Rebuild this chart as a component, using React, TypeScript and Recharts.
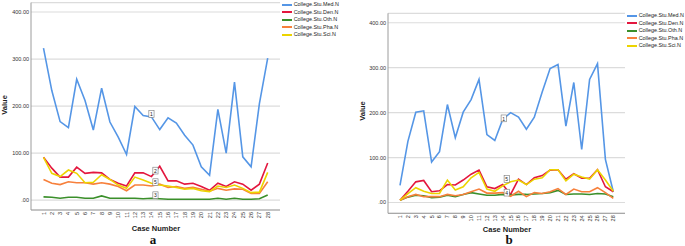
import React from "react";
import { LineChart, Line, XAxis, YAxis, CartesianGrid, Legend } from "recharts";

const cases = ["1","2","3","4","5","6","7","8","9","10","11","12","13","14","15","16","17","18","19","20","21","22","23","24","25","26","27","28"];
const seriesNames = ["College.Stu.Med.N","College.Stu.Den.N","College.Stu.Oth.N","College.Stu.Pha.N","College.Stu.Sci.N"];
const seriesColors = ["#5596e6","#e3173e","#3a8f2a","#f7803c","#ecd400"];
const yTicks = [0,100,200,300,400];

// panel a
const aMed = [323,233,167,154,257,212,149,238,166,134,97,199,180,177,150,175,164,138,117,71,53,193,100,251,92,71,205,302];
const aDen = [91,68,49,49,70,57,59,58,44,36,30,58,58,50,72,41,41,34,36,29,21,36,29,39,34,21,34,79];
const aOth = [7,6,4,6,6,4,4,9,4,4,4,4,3,4,3,2,2,2,2,2,2,4,2,4,2,2,3,11];
const aPha = [44,36,33,39,37,37,34,37,34,29,20,32,32,30,34,27,29,25,27,23,19,25,21,24,23,14,14,39];
const aSci = [91,57,50,64,57,37,38,54,44,32,25,49,43,36,32,30,27,23,25,20,18,30,27,32,25,16,17,59];

// panel b
const bMed = [38,136,201,204,90,113,218,144,201,229,274,151,138,185,200,190,163,190,246,298,307,170,267,118,274,309,96,24];
const bDen = [5,25,46,49,24,26,40,39,50,63,72,35,31,40,18,52,40,55,60,72,73,52,64,54,54,73,35,24];
const bOth = [5,12,16,15,11,12,16,13,18,22,19,16,16,18,17,18,18,19,20,22,27,18,19,19,18,20,19,13];
const bPha = [5,13,18,13,13,13,18,15,18,24,30,21,21,22,14,25,13,22,20,24,31,18,30,24,24,33,22,9];
const bSci = [5,20,33,25,20,20,50,28,35,55,67,30,25,37,46,50,40,52,55,73,73,48,63,57,52,73,50,25];

const keys = ["med","den","oth","pha","sci"];

function build(med: number[], den: number[], oth: number[], pha: number[], sci: number[]) {
  return cases.map((c, i) => ({ case: c, med: med[i], den: den[i], oth: oth[i], pha: pha[i], sci: sci[i] }));
}
const dataA = build(aMed, aDen, aOth, aPha, aSci);
const dataB = build(bMed, bDen, bOth, bPha, bSci);

const FONT = "'Liberation Sans', Arial, sans-serif";

const XTick = (props: any) => {
  const { x, y, payload } = props;
  return (
    <text x={x} y={y} transform={`rotate(-90, ${x}, ${y})`} textAnchor="end" dominantBaseline="central" fontSize={5.5} fill="#333" fontFamily={FONT}>
      {payload.value}
    </text>
  );
};

const fmt = (v: number) => (v === 0 ? ".00" : v.toFixed(2));

const LegendBox = (props: any) => {
  const items = [...(props.payload || [])].sort(
    (p: any, q: any) => seriesNames.indexOf(p.value) - seriesNames.indexOf(q.value)
  );
  return (
    <div style={{ fontFamily: FONT, whiteSpace: "nowrap" }}>
      {items.map((p: any, i: number) => (
        <div key={i} style={{ display: "flex", alignItems: "center", height: 7.4 }}>
          <span style={{ display: "inline-block", width: 10, height: 2, background: p.color }} />
          <span style={{ marginLeft: 2, fontSize: 5.4, color: "#222", lineHeight: "7px" }}>{p.value}</span>
        </div>
      ))}
    </div>
  );
};

function makeLabel(text: string, idx: number, dx: number, dy: number) {
  return (props: any) => {
    if (props.index !== idx) return <g />;
    const cx = props.x + dx;
    const cy = props.y + dy;
    return (
      <g>
        <rect x={cx - 2.6} y={cy - 3.4} width={5.2} height={6.8} fill="#fff" stroke="#777" strokeWidth={0.6} />
        <text x={cx} y={cy + 0.2} textAnchor="middle" dominantBaseline="central" fontSize={5} fill="#222" fontFamily={FONT}>{text}</text>
      </g>
    );
  };
}

type LabelSpec = { [k: string]: [string, number, number, number] };
const labelsA: LabelSpec = { med: ["1", 13, 0, -3], den: ["2", 13, 4, -6], oth: ["3", 13, 4, -3], sci: ["5", 13, 4, -1] };
const labelsB: LabelSpec = { med: ["1", 13, 1, -1], pha: ["4", 13, 4, 0], sci: ["5", 13, 4, -7] };

function Panel(props: { data: any[]; width: number; margin: any; domain: [number, number]; xPad: any; xHeight: number; labels: LabelSpec; legendTop: number }) {
  const { data, width, margin, domain, xPad, xHeight, labels, legendTop } = props;
  return (
    <LineChart width={width} height={246} data={data} margin={margin}>
      <CartesianGrid vertical={false} stroke="#dcdcdc" strokeWidth={1.2} />
      <XAxis dataKey="case" type="category" interval={0} padding={xPad} height={xHeight} tickLine={false} tickSize={0} tickMargin={2} axisLine={{ stroke: "#9c9c9c", strokeWidth: 1 }} tick={<XTick />} />
      <YAxis type="number" domain={domain} ticks={yTicks} allowDataOverflow width={30} tickLine={false} tickSize={0} tickMargin={2} tickFormatter={fmt} axisLine={{ stroke: "#9c9c9c", strokeWidth: 1 }} tick={{ fontSize: 5.5, fill: "#333", fontFamily: FONT }} />
      <Legend layout="horizontal" verticalAlign="middle" align="center" content={<LegendBox />} wrapperStyle={{ position: "absolute", left: 281.7, top: legendTop, width: "auto" }} />
      {keys.map((k, i) => (
        <Line key={k} type="linear" dataKey={k} name={seriesNames[i]} stroke={seriesColors[i]} strokeWidth={1.6} dot={false} activeDot={false} isAnimationActive={false}
          label={labels[k] ? makeLabel(labels[k][0], labels[k][1], labels[k][2], labels[k][3]) : undefined} />
      ))}
    </LineChart>
  );
}

export default function App() {
  return (
    <div style={{ position: "absolute", left: 0, top: 0, width: 685, height: 246, background: "#fff" }}>
      <div style={{ position: "absolute", left: 0, top: 0 }}>
        <Panel data={dataA} width={345} margin={{ top: 2.6, right: 65, bottom: 0, left: 1 }} domain={[-21, 420]} xPad={{ left: 12.5, right: 12.3 }} xHeight={36} labels={labelsA} legendTop={1.3} />
      </div>
      <div style={{ position: "absolute", left: 345, top: 0 }}>
        <Panel data={dataB} width={340} margin={{ top: 13.3, right: 60, bottom: 0, left: 13 }} domain={[-24, 421]} xPad={{ left: 12, right: 11.7 }} xHeight={32.7} labels={labelsB} legendTop={12.3} />
      </div>
      <svg width={685} height={246} style={{ position: "absolute", left: 0, top: 0, pointerEvents: "none" }}>
        <text x={4.5} y={105} transform="rotate(-90, 4.5, 105)" textAnchor="middle" dominantBaseline="central" fontSize={7.5} fontWeight="bold" fill="#222" fontFamily={FONT}>Value</text>
        <text x={362} y={111} transform="rotate(-90, 362, 111)" textAnchor="middle" dominantBaseline="central" fontSize={7.5} fontWeight="bold" fill="#222" fontFamily={FONT}>Value</text>
        <text x={156} y={228.5} textAnchor="middle" dominantBaseline="central" fontSize={7.5} fontWeight="bold" fill="#222" fontFamily={FONT}>Case Number</text>
        <text x={507} y={229} textAnchor="middle" dominantBaseline="central" fontSize={7.5} fontWeight="bold" fill="#222" fontFamily={FONT}>Case Number</text>
        <text x={153} y={239.5} textAnchor="middle" dominantBaseline="central" fontSize={13} fontWeight="bold" fill="#111" fontFamily="'Liberation Serif', 'DejaVu Serif', serif">a</text>
        <text x={509} y={239.5} textAnchor="middle" dominantBaseline="central" fontSize={13} fontWeight="bold" fill="#111" fontFamily="'Liberation Serif', 'DejaVu Serif', serif">b</text>
      </svg>
    </div>
  );
}
